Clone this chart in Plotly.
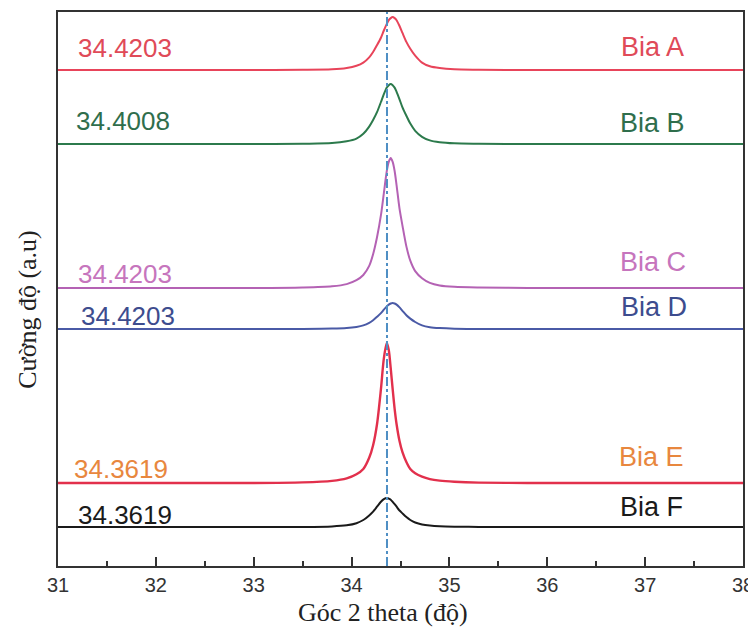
import plotly.graph_objects as go

# ---- data ----
two_theta = [31.0, 32.0, 33.0, 33.5, 33.8, 33.95, 34.05, 34.12, 34.18, 34.22, 34.26, 34.3, 34.33,
             34.36, 34.38, 34.4, 34.42, 34.44, 34.46, 34.49, 34.52, 34.56, 34.6, 34.65, 34.72,
             34.8, 34.9, 35.05, 35.3, 35.8, 36.5, 37.5, 38.0]

bia_a = [496, 496, 496, 496.2, 496.7, 498.0, 500.2, 503.4, 508.7, 514.0, 520.9, 528.3, 535.5,
         542.1, 545.8, 547.9, 549.0, 547.9, 545.8, 540.0, 533.1, 524.1, 517.2, 510.3, 503.4,
         499.7, 497.9, 496.7, 496.3, 496, 496, 496, 496]
bia_b = [422, 422, 422, 422.3, 422.9, 424.7, 427.4, 432.2, 439.4, 446.0, 453.8, 464.0, 471.8,
         478.4, 480.8, 482.0, 480.8, 478.4, 474.2, 466.7, 458.6, 450.2, 442.4, 435.2, 429.2,
         425.6, 423.8, 422.7, 422.3, 422, 422, 422, 422]
bia_c = [278, 278, 278, 278.5, 279.7, 281.9, 285.8, 291.0, 300.1, 311.8, 328.7, 350.8, 372.9,
         395.0, 404.1, 408.0, 404.1, 395.0, 380.7, 357.3, 340.4, 319.6, 305.3, 294.9, 287.8,
         283.2, 280.6, 279.2, 278.5, 278, 278, 278, 278]
bia_d = [237, 237, 237, 237.1, 237.4, 238.0, 239.1, 240.6, 243.2, 245.8, 249.2, 252.9, 256.4,
         259.6, 261.4, 262.5, 263.0, 262.5, 261.4, 258.6, 255.2, 250.8, 247.4, 244.0, 240.6,
         238.8, 237.9, 237.3, 237.1, 237, 237, 237, 237]
bia_e = [83, 83, 83, 83.6, 85.1, 87.6, 91.7, 97.0, 108.2, 120.8, 141.8, 176.8, 207.6,
         223.0, 216.0, 197.8, 176.8, 157.2, 141.8, 125.0, 113.8, 104.0, 97.0, 92.8, 89.3,
         86.9, 85.4, 84.3, 83.4, 83, 83, 83, 83]
bia_f = [39, 39, 39, 39.1, 39.6, 40.7, 42.8, 46.0, 50.6, 54.4, 59.3, 64.2, 66.8,
         68.0, 67.4, 66.3, 64.2, 61.9, 59.3, 55.5, 52.6, 48.9, 46.0, 43.5, 41.5,
         40.4, 39.7, 39.3, 39.1, 39, 39, 39, 39]

sample_names = ["Bia A", "Bia B", "Bia C", "Bia D", "Bia E", "Bia F"]
peak_labels = ["34.4203", "34.4008", "34.4203", "34.4203", "34.3619", "34.3619"]
reference_peak = [34.3619]
x_ticks = [31, 32, 33, 34, 35, 36, 37, 38]

series = [bia_a, bia_b, bia_c, bia_d, bia_e, bia_f]

# ---- styles ----
line_colors = ["#e8445a", "#2c7a4c", "#b462b4", "#4a5aa6", "#e2304c", "#1a1a1a"]
left_text_colors = ["#e04a58", "#2f6e4c", "#c675bd", "#3d4c8e", "#e8873e", "#1a1a1a"]
right_text_colors = ["#e04a58", "#2f6e4c", "#c675bd", "#3d4c8e", "#e8873e", "#1a1a1a"]
line_widths = [2, 2, 2, 2, 2.4, 2]
left_shift = [22, 23, 14.5, 13, 14, 12.5]
right_shift = [23, 21, 26, 22, 26, 20]
left_x = [31.68, 31.66, 31.68, 31.72, 31.64, 31.68]
right_x = [37.08, 37.08, 37.08, 37.09, 37.06, 37.06]

fig = go.Figure()

for ys, col, lw in zip(series, line_colors, line_widths):
    fig.add_trace(go.Scatter(
        x=two_theta, y=ys, mode="lines",
        line=dict(color=col, width=lw, shape="spline", smoothing=0.8),
        showlegend=False, hoverinfo="skip"))

for xv in reference_peak:
    fig.add_trace(go.Scatter(
        x=[xv, xv], y=[0, 554], mode="lines",
        line=dict(color="#4f8fc4", width=2, dash="dashdot"),
        showlegend=False, hoverinfo="skip"))

annotations = []
for i, ys in enumerate(series):
    annotations.append(dict(
        x=left_x[i], y=ys[0], xref="x", yref="y", text=peak_labels[i], showarrow=False,
        xanchor="center", yanchor="middle", yshift=left_shift[i],
        font=dict(family="Liberation Sans, Arial, sans-serif", size=26, color=left_text_colors[i])))
    annotations.append(dict(
        x=right_x[i], y=ys[0], xref="x", yref="y", text=sample_names[i], showarrow=False,
        xanchor="center", yanchor="middle", yshift=right_shift[i],
        font=dict(family="Liberation Sans, Arial, sans-serif", size=27, color=right_text_colors[i])))

annotations.append(dict(
    x=0.4745, y=-0.0848, xref="paper", yref="paper", text="Góc 2 theta (độ)", showarrow=False,
    xanchor="center", yanchor="middle",
    font=dict(family="Liberation Serif, Times New Roman, serif", size=26, color="#222")))
annotations.append(dict(
    x=-0.044, y=0.464, xref="paper", yref="paper", text="Cường độ (a.u)", showarrow=False,
    xanchor="center", yanchor="middle", textangle=-90,
    font=dict(family="Liberation Serif, Times New Roman, serif", size=26, color="#222")))

# page body has an 8px margin, so the figure is sized/margined to land the
# plot box at the reference position within the 756x628 window
fig.update_layout(
    width=748, height=620,
    margin=dict(l=50, r=13, t=4, b=62),
    paper_bgcolor="white", plot_bgcolor="white",
    annotations=annotations,
    xaxis=dict(
        range=[31, 38], tickvals=x_ticks, ticktext=[str(v) for v in x_ticks],
        ticks="inside", ticklen=9, tickwidth=1.5, tickcolor="#333",
        minor=dict(dtick=0.5, tick0=31, ticks="inside", ticklen=5, tickwidth=1.5, tickcolor="#333"),
        showline=True, linecolor="#333", linewidth=2, mirror=True,
        showgrid=False, zeroline=False, automargin=False,
        tickfont=dict(family="Liberation Sans, Arial, sans-serif", size=20, color="#333"),
    ),
    yaxis=dict(
        range=[0, 554], showticklabels=False, ticks="",
        showline=True, linecolor="#333", linewidth=2, mirror=True,
        showgrid=False, zeroline=False, automargin=False,
    ),
)

fig.write_html("out.html")
